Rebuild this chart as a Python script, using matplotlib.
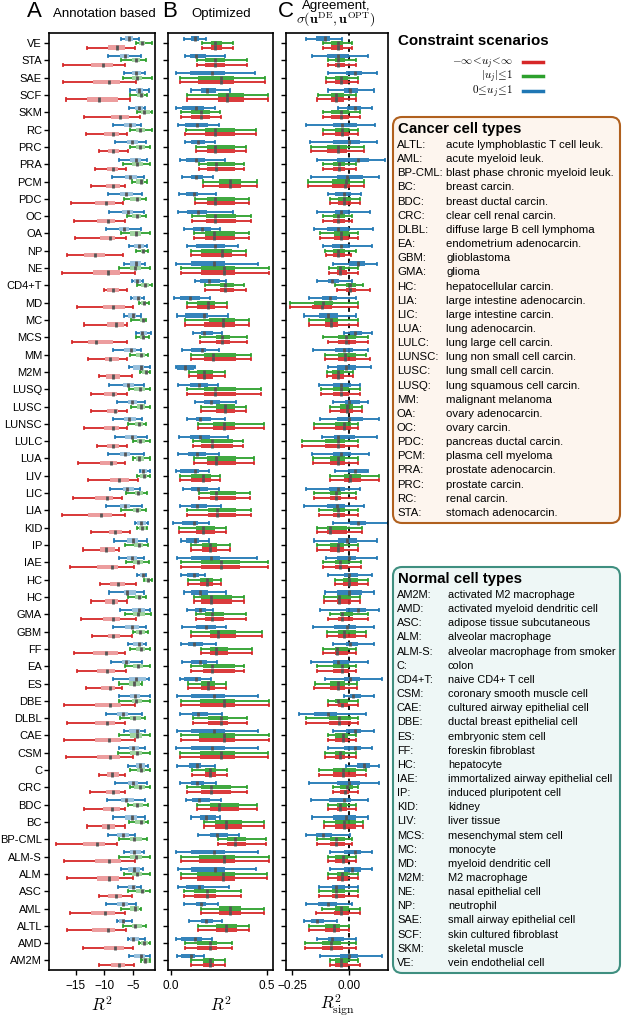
import numpy as np
import matplotlib
matplotlib.use("Agg")
import matplotlib.pyplot as plt
from matplotlib.lines import Line2D
from matplotlib.patches import FancyBboxPatch

plt.rcParams['font.family'] = ['Liberation Sans', 'DejaVu Sans']
plt.rcParams['mathtext.fontset'] = 'cm'
plt.rcParams['axes.unicode_minus'] = True

categories = ["VE", "STA", "SAE", "SCF", "SKM", "RC", "PRC", "PRA", "PCM", "PDC", "OC", "OA", "NP", "NE",
              "CD4+T", "MD", "MC", "MCS", "MM", "M2M", "LUSQ", "LUSC", "LUNSC", "LULC", "LUA", "LIV", "LIC",
              "LIA", "KID", "IP", "IAE", "HC", "HC", "GMA", "GBM", "FF", "EA", "ES", "DBE", "DLBL", "CAE",
              "CSM", "C", "CRC", "BDC", "BC", "BP-CML", "ALM-S", "ALM", "ASC", "AML", "ALTL", "AMD", "AM2M"]

# each entry: (whisker low, q1, median, q3, whisker high)
A_blue = [(-7.0,-6.3,-5.6,-5.0,-3.9),(-9.4,-7.2,-6.4,-5.7,-3.5),(-6.5,-5.2,-4.4,-3.5,-2.8),(-5.5,-4.5,-3.9,-3.2,-2.2),
          (-5.7,-4.6,-3.9,-3.2,-2.8),(-8.5,-6.5,-5.4,-4.4,-3.5),(-8.1,-6.1,-5.2,-4.1,-2.6),(-7.5,-5.5,-4.5,-3.6,-2.5),
          (-8.7,-6.3,-5.4,-4.2,-3.0),(-9.3,-7.2,-6.2,-5.0,-3.3),(-9.1,-6.9,-5.9,-5.0,-3.0),(-9.7,-7.5,-6.5,-5.6,-3.5),
          (-5.7,-4.8,-3.9,-3.0,-2.5),(-6.5,-5.4,-4.5,-3.6,-2.8),(-5.2,-4.7,-4.3,-3.6,-3.2),(-5.3,-4.9,-4.1,-3.5,-3.0),
          (-6.5,-5.8,-5.0,-4.4,-3.5),(-4.4,-3.8,-3.3,-2.5,-1.8),(-8.4,-6.6,-5.3,-4.5,-3.5),(-5.6,-5.0,-3.5,-3.0,-1.9),
          (-9.1,-6.8,-5.9,-4.8,-3.0),(-7.8,-5.8,-5.1,-4.2,-2.8),(-8.5,-6.6,-5.7,-4.5,-3.3),(-8.1,-6.3,-5.2,-4.2,-2.5),
          (-9.3,-7.2,-6.3,-5.4,-3.0),(-3.8,-3.5,-3.2,-2.5,-2.0),(-9.0,-6.8,-6.0,-4.8,-3.8),(-9.7,-7.2,-6.3,-5.4,-3.3),
          (-4.6,-4.2,-3.6,-2.6,-2.3),(-8.3,-6.1,-5.0,-4.1,-2.5),(-7.5,-6.1,-5.1,-4.2,-3.0),(-4.2,-3.8,-3.2,-2.9,-2.6),
          (-9.1,-6.6,-6.1,-4.5,-3.0),(-7.2,-5.2,-3.9,-2.9,-2.0),(-8.4,-6.4,-5.1,-3.9,-2.6),(-5.8,-5.0,-3.9,-3.2,-2.6),
          (-8.8,-6.9,-6.2,-5.4,-3.3),(-8.4,-5.7,-4.5,-2.6,-2.2),(-7.4,-5.4,-4.6,-3.8,-2.0),(-9.7,-7.8,-6.8,-5.8,-3.3),
          (-6.6,-5.6,-4.2,-3.8,-2.8),(-7.5,-5.7,-5.0,-3.9,-2.9),(-5.8,-4.5,-3.8,-2.8,-2.3),(-8.1,-5.8,-5.0,-4.1,-2.5),
          (-9.6,-7.0,-6.2,-4.8,-2.8),(-8.4,-6.3,-5.2,-4.2,-2.9),(-9.4,-7.8,-6.8,-5.7,-4.6),(-6.6,-5.4,-4.8,-3.6,-3.0),
          (-7.0,-5.8,-4.8,-3.8,-3.2),(-7.6,-5.8,-5.0,-4.4,-3.6),(-9.7,-7.8,-6.8,-5.8,-4.4),(-7.8,-7.5,-6.7,-6.3,-5.2),
          (-5.9,-5.4,-5.0,-3.9,-2.9),(-5.6,-4.8,-3.6,-2.8,-2.0)]
A_green = [(-4.5,-3.9,-3.4,-2.9,-1.7),(-7.0,-5.2,-4.5,-3.8,-2.6),(-6.8,-5.2,-4.3,-3.3,-1.7),(-5.4,-4.2,-3.6,-3.0,-2.5),
           (-4.2,-3.5,-3.0,-2.0,-1.7),(-5.5,-4.5,-3.8,-2.8,-1.7),(-5.4,-4.4,-3.7,-2.8,-1.9),(-6.7,-5.2,-4.2,-3.2,-1.9),
           (-5.2,-4.5,-3.5,-3.0,-2.5),(-6.5,-5.4,-4.2,-3.5,-2.6),(-6.1,-5.2,-4.2,-3.5,-2.6),(-7.0,-5.4,-4.5,-3.6,-2.0),
           (-4.4,-3.6,-3.2,-2.8,-2.3),(-7.4,-5.4,-4.6,-3.6,-1.9),(-4.2,-3.5,-2.8,-2.2,-1.7),(-3.9,-3.6,-3.0,-2.6,-2.2),
           (-5.3,-3.8,-3.2,-2.8,-2.6),(-4.5,-3.8,-3.2,-2.8,-2.2),(-5.4,-4.4,-3.6,-2.9,-2.3),(-3.8,-3.3,-2.6,-2.4,-2.0),
           (-5.6,-4.8,-3.8,-2.8,-2.0),(-5.3,-4.2,-3.6,-2.9,-2.0),(-5.8,-4.6,-3.9,-3.2,-2.6),(-5.0,-4.2,-3.8,-2.9,-2.0),
           (-5.0,-4.4,-3.9,-3.0,-2.0),(-4.3,-3.8,-3.0,-2.5,-2.0),(-6.2,-4.6,-4.1,-3.2,-2.5),(-7.0,-5.0,-4.3,-3.5,-2.6),
           (-4.3,-3.9,-3.3,-2.6,-2.5),(-6.3,-4.8,-3.9,-3.2,-2.4),(-6.2,-5.0,-4.1,-3.2,-2.2),(-3.0,-2.8,-2.3,-1.9,-1.7),
           (-5.8,-4.6,-3.9,-3.3,-2.6),(-6.3,-5.0,-4.1,-2.8,-1.8),(-5.0,-4.5,-3.8,-2.9,-2.3),(-5.4,-4.5,-3.6,-2.9,-2.0),
           (-6.4,-5.0,-4.1,-3.2,-2.0),(-7.4,-5.7,-4.8,-3.8,-3.3),(-7.4,-5.2,-4.5,-3.3,-1.9),(-7.2,-5.4,-4.8,-3.6,-2.8),
           (-7.4,-5.4,-4.2,-3.3,-1.9),(-7.6,-5.4,-4.2,-3.3,-1.9),(-5.4,-4.2,-3.5,-2.8,-1.9),(-5.4,-4.8,-3.8,-2.9,-2.0),
           (-5.8,-5.0,-4.2,-3.2,-2.3),(-5.7,-4.6,-3.6,-2.9,-2.3),(-7.4,-5.4,-4.8,-3.3,-2.5),(-7.4,-5.4,-4.5,-3.3,-1.9),
           (-6.6,-5.2,-4.2,-3.3,-1.9),(-5.8,-4.5,-3.3,-2.9,-2.0),(-7.0,-5.4,-4.6,-3.9,-3.5),(-6.8,-5.2,-4.6,-3.3,-2.6),
           (-3.9,-3.6,-3.0,-2.3,-1.9),(-3.6,-3.2,-2.8,-2.2,-1.9)]
A_red = [(-13.0,-9.3,-7.7,-6.3,-4.6),(-17.2,-12.4,-10.3,-8.4,-6.3),(-17.2,-11.9,-9.1,-7.2,-4.4),(-16.7,-13.1,-11.0,-7.6,-5.4),
         (-13.5,-8.8,-7.2,-5.7,-3.8),(-13.2,-10.0,-8.4,-7.4,-6.0),(-11.0,-9.3,-8.4,-7.5,-5.9),(-11.7,-9.6,-8.5,-7.6,-6.2),
         (-12.3,-9.7,-8.4,-7.2,-6.3),(-15.8,-11.6,-9.7,-8.1,-6.8),(-15.4,-11.3,-9.4,-8.1,-6.3),(-15.1,-10.7,-9.0,-8.1,-6.2),
         (-16.5,-13.5,-11.6,-9.9,-6.8),(-17.4,-11.9,-9.4,-7.2,-4.6),(-10.1,-9.6,-8.4,-7.5,-6.0),(-14.8,-10.3,-8.4,-6.4,-5.0),
         (-13.5,-9.6,-8.0,-6.6,-6.0),(-15.7,-12.8,-11.5,-8.4,-6.0),(-12.8,-9.9,-9.0,-7.5,-6.0),(-11.0,-9.7,-8.4,-7.2,-5.2),
         (-12.4,-10.1,-8.4,-7.8,-6.0),(-12.4,-9.6,-8.1,-7.6,-6.0),(-13.5,-10.0,-8.4,-7.5,-6.0),(-11.3,-9.6,-8.4,-7.5,-6.0),
         (-14.6,-10.7,-8.8,-7.8,-6.4),(-12.9,-9.0,-7.4,-5.7,-4.1),(-15.5,-11.6,-9.6,-8.4,-6.9),(-17.4,-12.8,-10.6,-8.7,-6.3),
         (-12.3,-9.1,-8.1,-6.9,-5.4),(-13.7,-10.7,-9.7,-8.2,-7.4),(-16.1,-11.3,-8.7,-7.6,-4.8),(-10.7,-9.0,-7.6,-6.4,-4.5),
         (-12.3,-9.9,-8.4,-7.6,-6.0),(-14.1,-10.3,-8.4,-7.2,-4.4),(-12.1,-9.3,-8.4,-7.2,-5.2),(-15.3,-11.9,-9.7,-7.6,-6.4),
         (-14.8,-11.3,-9.6,-8.1,-6.2),(-13.2,-10.6,-9.0,-8.1,-6.9),(-17.1,-11.7,-9.0,-7.0,-4.6),(-16.5,-11.6,-9.6,-8.1,-6.3),
         (-17.1,-11.7,-9.1,-7.0,-4.6),(-16.8,-11.3,-9.0,-7.2,-5.0),(-11.0,-9.6,-8.6,-7.5,-6.3),(-12.5,-9.7,-8.4,-7.2,-6.3),
         (-13.5,-10.3,-8.6,-7.2,-6.3),(-13.0,-10.4,-9.4,-8.1,-6.3),(-18.4,-13.7,-11.2,-9.9,-7.7),(-17.1,-11.7,-9.1,-7.0,-4.6),
         (-16.5,-11.3,-9.1,-7.4,-5.0),(-11.0,-9.3,-7.9,-6.9,-5.2),(-16.1,-12.4,-9.9,-8.1,-6.3),(-16.5,-12.2,-9.4,-8.1,-6.2),
         (-13.8,-10.1,-8.2,-6.6,-5.0),(-11.0,-8.8,-7.4,-6.3,-4.8)]

B_blue = [(0.066,0.105,0.122,0.143,0.183),(0.071,0.096,0.132,0.183,0.279),(0.026,0.096,0.214,0.279,0.436),(0.105,0.157,0.188,0.235,0.308),
          (0.026,0.057,0.127,0.171,0.230),(0.035,0.070,0.134,0.192,0.249),(0.070,0.105,0.139,0.174,0.230),(0.044,0.078,0.132,0.174,0.279),
          (0.057,0.105,0.127,0.166,0.218),(0.040,0.078,0.118,0.139,0.235),(0.035,0.084,0.139,0.188,0.322),(0.066,0.113,0.162,0.209,0.253),
          (0.084,0.131,0.230,0.279,0.348),(0.026,0.105,0.221,0.279,0.453),(0.122,0.148,0.195,0.253,0.287),(0.017,0.044,0.100,0.148,0.200),
          (0.031,0.070,0.171,0.192,0.296),(0.113,0.157,0.171,0.218,0.265),(0.056,0.105,0.160,0.183,0.247),(0.023,0.031,0.070,0.118,0.122),
          (0.035,0.096,0.143,0.192,0.244),(0.125,0.171,0.209,0.253,0.340),(0.082,0.131,0.148,0.209,0.279),(0.040,0.096,0.148,0.200,0.296),
          (0.035,0.087,0.134,0.183,0.247),(0.023,0.044,0.122,0.143,0.197),(0.061,0.105,0.139,0.192,0.247),(0.044,0.101,0.134,0.188,0.258),
          (0.012,0.056,0.117,0.139,0.197),(0.049,0.078,0.125,0.143,0.197),(0.031,0.101,0.206,0.256,0.448),(0.049,0.084,0.118,0.145,0.178),
          (0.066,0.105,0.148,0.192,0.287),(0.082,0.122,0.148,0.183,0.218),(0.057,0.131,0.179,0.235,0.287),(0.049,0.087,0.118,0.166,0.235),
          (0.057,0.105,0.148,0.188,0.240),(0.044,0.066,0.131,0.157,0.209),(0.030,0.101,0.221,0.282,0.453),(0.044,0.110,0.139,0.192,0.265),
          (0.031,0.101,0.221,0.282,0.453),(0.026,0.101,0.214,0.279,0.453),(0.031,0.092,0.134,0.153,0.230),(0.044,0.105,0.136,0.171,0.235),
          (0.075,0.110,0.143,0.200,0.261),(0.105,0.148,0.183,0.235,0.253),(0.139,0.200,0.240,0.296,0.354),(0.026,0.101,0.221,0.282,0.453),
          (0.035,0.101,0.226,0.279,0.444),(0.035,0.075,0.143,0.171,0.301),(0.066,0.131,0.153,0.183,0.244),(0.092,0.153,0.179,0.218,0.265),
          (0.026,0.052,0.122,0.160,0.213),(0.030,0.052,0.101,0.122,0.171)]
B_green = [(0.160,0.206,0.230,0.265,0.324),(0.134,0.174,0.226,0.279,0.397),(0.044,0.139,0.261,0.328,0.488),(0.082,0.244,0.289,0.380,0.505),
           (0.052,0.101,0.153,0.200,0.253),(0.075,0.174,0.230,0.334,0.439),(0.131,0.186,0.226,0.331,0.392),(0.143,0.186,0.232,0.331,0.380),
           (0.166,0.247,0.305,0.366,0.449),(0.122,0.188,0.230,0.334,0.404),(0.108,0.179,0.230,0.340,0.418),(0.118,0.174,0.223,0.334,0.404),
           (0.105,0.157,0.265,0.319,0.392),(0.052,0.157,0.274,0.334,0.509),(0.178,0.253,0.279,0.328,0.380),(0.082,0.136,0.192,0.226,0.293),
           (0.070,0.197,0.270,0.334,0.404),(0.148,0.235,0.267,0.305,0.397),(0.101,0.171,0.218,0.340,0.415),(0.091,0.136,0.171,0.218,0.279),
           (0.082,0.171,0.226,0.340,0.465),(0.153,0.235,0.279,0.334,0.392),(0.139,0.218,0.274,0.334,0.483),(0.113,0.157,0.213,0.322,0.375),
           (0.118,0.186,0.232,0.340,0.430),(0.044,0.101,0.166,0.209,0.253),(0.143,0.200,0.232,0.340,0.409),(0.084,0.192,0.240,0.340,0.415),
           (0.040,0.131,0.166,0.226,0.287),(0.105,0.162,0.200,0.240,0.305),(0.049,0.153,0.261,0.357,0.505),(0.087,0.148,0.188,0.218,0.261),
           (0.117,0.157,0.209,0.319,0.378),(0.127,0.174,0.214,0.274,0.387),(0.101,0.200,0.244,0.340,0.474),(0.157,0.200,0.235,0.296,0.422),
           (0.105,0.166,0.214,0.334,0.380),(0.087,0.157,0.192,0.226,0.287),(0.052,0.148,0.274,0.334,0.509),(0.113,0.192,0.258,0.296,0.397),
           (0.049,0.143,0.274,0.334,0.509),(0.047,0.148,0.261,0.331,0.505),(0.108,0.174,0.204,0.235,0.293),(0.082,0.153,0.209,0.310,0.397),
           (0.134,0.200,0.247,0.354,0.448),(0.171,0.230,0.284,0.369,0.484),(0.244,0.293,0.334,0.392,0.493),(0.049,0.143,0.274,0.334,0.509),
           (0.052,0.136,0.270,0.331,0.497),(0.066,0.118,0.188,0.235,0.366),(0.153,0.247,0.305,0.366,0.484),(0.139,0.235,0.284,0.345,0.406),
           (0.070,0.136,0.200,0.239,0.319),(0.101,0.166,0.200,0.223,0.282)]
B_red = [(0.160,0.206,0.230,0.265,0.324),(0.134,0.174,0.226,0.279,0.397),(0.044,0.139,0.261,0.328,0.488),(0.082,0.244,0.289,0.380,0.505),
         (0.052,0.101,0.153,0.200,0.260),(0.070,0.174,0.230,0.334,0.439),(0.131,0.186,0.226,0.331,0.392),(0.143,0.186,0.232,0.331,0.380),
         (0.166,0.247,0.305,0.366,0.449),(0.122,0.188,0.230,0.334,0.404),(0.108,0.179,0.230,0.340,0.418),(0.118,0.174,0.223,0.334,0.404),
         (0.105,0.157,0.265,0.319,0.392),(0.052,0.157,0.274,0.334,0.509),(0.178,0.253,0.279,0.328,0.387),(0.082,0.136,0.192,0.226,0.293),
         (0.070,0.171,0.270,0.334,0.404),(0.148,0.235,0.267,0.305,0.397),(0.101,0.171,0.218,0.340,0.415),(0.091,0.136,0.171,0.218,0.279),
         (0.082,0.171,0.226,0.340,0.465),(0.153,0.235,0.279,0.334,0.392),(0.139,0.218,0.274,0.334,0.483),(0.113,0.157,0.213,0.322,0.375),
         (0.118,0.186,0.232,0.340,0.430),(0.044,0.101,0.166,0.209,0.253),(0.143,0.200,0.232,0.340,0.409),(0.084,0.192,0.240,0.340,0.415),
         (0.040,0.131,0.166,0.226,0.287),(0.105,0.162,0.200,0.240,0.305),(0.049,0.153,0.261,0.357,0.505),(0.087,0.148,0.188,0.218,0.261),
         (0.117,0.157,0.209,0.319,0.378),(0.127,0.174,0.214,0.274,0.387),(0.101,0.200,0.244,0.340,0.474),(0.157,0.200,0.235,0.296,0.422),
         (0.105,0.166,0.214,0.334,0.380),(0.087,0.157,0.192,0.226,0.287),(0.052,0.148,0.274,0.334,0.509),(0.113,0.192,0.258,0.296,0.397),
         (0.049,0.143,0.274,0.334,0.509),(0.047,0.148,0.261,0.331,0.505),(0.108,0.174,0.204,0.235,0.293),(0.082,0.153,0.209,0.310,0.397),
         (0.134,0.200,0.247,0.354,0.448),(0.171,0.230,0.284,0.369,0.484),(0.244,0.293,0.334,0.392,0.493),(0.049,0.143,0.274,0.334,0.509),
         (0.052,0.136,0.270,0.331,0.497),(0.066,0.118,0.188,0.235,0.366),(0.153,0.247,0.305,0.366,0.484),(0.139,0.235,0.284,0.345,0.406),
         (0.070,0.136,0.200,0.239,0.319),(0.101,0.166,0.200,0.223,0.282)]

C_blue = [(-0.188,-0.145,-0.105,-0.084,-0.032),(-0.163,-0.098,-0.052,-0.004,0.082),(-0.094,-0.014,0.025,0.053,0.118),(-0.094,-0.026,0.003,0.039,0.108),
          (-0.048,-0.012,0.022,0.051,0.097),(-0.189,-0.074,-0.033,0.032,0.111),(-0.173,-0.074,-0.001,0.046,0.118),(-0.142,-0.055,0.039,0.085,0.155),
          (-0.168,-0.055,-0.012,0.061,0.130),(-0.094,-0.062,-0.026,0.007,0.051),(-0.142,-0.062,-0.036,0.003,0.090),(-0.156,-0.098,-0.048,-0.001,0.104),
          (-0.117,-0.077,-0.036,0.003,0.097),(-0.074,-0.004,0.035,0.068,0.118),(-0.142,-0.094,-0.077,-0.045,0.013),(-0.178,-0.120,-0.084,-0.055,0.027),
          (-0.199,-0.134,-0.094,-0.051,0.027),(-0.026,0.003,0.022,0.053,0.097),(-0.160,-0.062,-0.022,0.017,0.082),(-0.094,-0.055,-0.014,0.027,0.094),
          (-0.134,-0.074,-0.036,0.007,0.046),(-0.074,-0.019,-0.001,0.046,0.082),(-0.127,-0.055,-0.001,0.061,0.130),(-0.120,-0.069,-0.048,0.025,0.118),
          (-0.163,-0.074,-0.036,0.007,0.085),(-0.062,-0.007,0.025,0.075,0.082),(-0.189,-0.091,-0.048,-0.019,0.046),(-0.199,-0.098,-0.055,-0.019,0.064),
          (-0.074,0.003,0.039,0.071,0.169),(-0.156,-0.051,-0.012,0.032,0.118),(-0.101,-0.055,-0.001,0.027,0.118),(-0.094,-0.026,-0.001,0.036,0.097),
          (-0.108,-0.055,-0.001,0.053,0.108),(-0.127,-0.016,0.039,0.071,0.130),(-0.160,-0.069,-0.012,0.027,0.108),(-0.074,-0.016,0.003,0.039,0.108),
          (-0.166,-0.074,-0.048,-0.004,0.082),(-0.108,-0.026,0.003,0.046,0.143),(-0.022,0.003,0.017,0.051,0.108),(-0.221,-0.156,-0.094,-0.055,0.071),
          (-0.074,-0.014,0.025,0.051,0.108),(-0.094,-0.026,0.025,0.051,0.097),(-0.014,0.032,0.064,0.090,0.130),(-0.178,-0.055,-0.001,0.046,0.130),
          (-0.166,-0.088,-0.026,0.007,0.082),(-0.163,-0.074,-0.014,0.027,0.082),(-0.189,-0.145,-0.117,-0.077,0.003),(-0.084,-0.022,0.025,0.051,0.097),
          (-0.084,-0.026,0.013,0.051,0.097),(-0.131,-0.077,-0.058,-0.019,0.036),(-0.189,-0.137,-0.094,-0.055,0.013),(-0.199,-0.166,-0.142,-0.113,-0.055),
          (-0.142,-0.094,-0.077,-0.026,0.027),(-0.127,-0.040,-0.001,0.039,0.143)]
C_green = [(-0.117,-0.081,-0.052,-0.029,0.013),(-0.094,-0.065,-0.048,-0.019,0.027),(-0.101,-0.062,-0.036,-0.007,0.036),(-0.137,-0.079,-0.059,-0.022,0.027),
           (-0.117,-0.079,-0.036,-0.004,0.046),(-0.117,-0.062,-0.033,-0.004,0.039),(-0.168,-0.098,-0.048,-0.012,0.064),(-0.117,-0.074,-0.045,-0.019,0.027),
           (-0.182,-0.077,-0.014,0.003,0.064),(-0.084,-0.051,-0.022,0.007,0.046),(-0.117,-0.074,-0.048,-0.019,0.013),(-0.127,-0.069,-0.036,-0.004,0.036),
           (-0.108,-0.074,-0.048,-0.019,0.027),(-0.088,-0.055,-0.040,-0.019,0.036),(-0.062,-0.016,0.003,0.027,0.061),(-0.260,-0.156,-0.117,-0.074,0.036),
           (-0.178,-0.108,-0.081,-0.048,0.036),(-0.117,-0.051,-0.014,0.027,0.082),(-0.108,-0.048,-0.019,0.027,0.071),(-0.098,-0.077,-0.051,-0.022,0.017),
           (-0.126,-0.074,-0.036,-0.004,0.046),(-0.084,-0.040,-0.012,0.017,0.053),(-0.156,-0.062,-0.022,0.007,0.035),(-0.207,-0.108,-0.048,-0.019,0.036),
           (-0.160,-0.084,-0.048,-0.019,0.036),(-0.084,-0.026,0.003,0.051,0.130),(-0.156,-0.084,-0.059,-0.036,0.027),(-0.131,-0.074,-0.048,-0.019,0.036),
           (-0.142,-0.098,-0.084,-0.012,0.053),(-0.142,-0.084,-0.048,-0.022,0.036),(-0.117,-0.062,-0.040,-0.007,0.051),(-0.062,-0.029,-0.001,0.039,0.082),
           (-0.113,-0.055,-0.045,0.007,0.046),(-0.084,-0.040,-0.033,0.017,0.082),(-0.098,-0.051,-0.023,0.027,0.071),(-0.117,-0.062,-0.055,-0.007,0.027),
           (-0.142,-0.074,-0.033,-0.004,0.027),(-0.152,-0.084,-0.048,-0.019,0.032),(-0.094,-0.062,-0.048,-0.007,0.036),(-0.189,-0.091,-0.045,0.007,0.036),
           (-0.094,-0.062,-0.029,-0.007,0.027),(-0.108,-0.062,-0.040,-0.019,0.027),(-0.131,-0.074,-0.029,0.027,0.071),(-0.074,-0.040,-0.012,0.017,0.036),
           (-0.094,-0.055,-0.040,-0.012,0.027),(-0.110,-0.062,-0.023,0.027,0.061),(-0.142,-0.087,-0.059,-0.019,0.013),(-0.094,-0.062,-0.029,-0.007,0.027),
           (-0.094,-0.055,-0.033,-0.007,0.036),(-0.131,-0.077,-0.058,-0.019,0.036),(-0.120,-0.062,-0.036,-0.004,0.046),(-0.178,-0.108,-0.069,-0.040,-0.001),
           (-0.192,-0.120,-0.081,-0.036,0.027),(-0.084,-0.062,-0.036,-0.007,0.039)]
C_red = [(-0.117,-0.081,-0.050,-0.029,0.013),(-0.094,-0.063,-0.048,-0.021,0.027),(-0.103,-0.062,-0.036,-0.007,0.036),(-0.141,-0.079,-0.059,-0.022,0.027),
         (-0.117,-0.079,-0.036,-0.004,0.046),(-0.117,-0.062,-0.033,-0.004,0.039),(-0.168,-0.098,-0.048,-0.012,0.064),(-0.117,-0.074,-0.045,-0.019,0.027),
         (-0.182,-0.077,-0.018,0.003,0.064),(-0.084,-0.048,-0.022,0.007,0.046),(-0.117,-0.074,-0.048,-0.019,0.013),(-0.127,-0.069,-0.036,-0.004,0.036),
         (-0.103,-0.074,-0.048,-0.019,0.007),(-0.088,-0.055,-0.040,-0.012,0.036),(-0.055,-0.016,0.003,0.027,0.090),(-0.260,-0.163,-0.120,-0.077,0.036),
         (-0.178,-0.108,-0.081,-0.048,0.036),(-0.095,-0.048,-0.014,0.027,0.082),(-0.108,-0.048,-0.019,0.027,0.090),(-0.098,-0.077,-0.051,-0.022,0.017),
         (-0.126,-0.074,-0.036,-0.004,0.046),(-0.084,-0.040,-0.012,0.017,0.053),(-0.156,-0.062,-0.022,0.007,0.035),(-0.207,-0.108,-0.048,-0.019,0.036),
         (-0.160,-0.084,-0.048,-0.019,0.036),(-0.084,-0.026,0.003,0.051,0.130),(-0.156,-0.084,-0.059,-0.036,0.027),(-0.131,-0.074,-0.048,-0.019,0.036),
         (-0.142,-0.098,-0.084,-0.012,0.053),(-0.142,-0.084,-0.048,-0.022,0.036),(-0.117,-0.062,-0.040,-0.007,0.051),(-0.062,-0.029,-0.001,0.039,0.082),
         (-0.113,-0.055,-0.045,0.007,0.046),(-0.094,-0.048,-0.033,0.017,0.082),(-0.098,-0.051,-0.023,0.027,0.071),(-0.117,-0.062,-0.055,-0.007,0.027),
         (-0.142,-0.074,-0.033,-0.004,0.027),(-0.156,-0.084,-0.048,-0.019,0.032),(-0.094,-0.051,-0.033,-0.007,0.036),(-0.189,-0.091,-0.045,0.007,0.036),
         (-0.094,-0.062,-0.029,-0.007,0.027),(-0.108,-0.062,-0.040,-0.019,0.027),(-0.131,-0.074,-0.029,0.027,0.071),(-0.074,-0.040,-0.019,-0.001,0.036),
         (-0.094,-0.055,-0.040,-0.012,0.027),(-0.110,-0.062,-0.023,0.027,0.061),(-0.142,-0.087,-0.059,-0.019,0.013),(-0.094,-0.062,-0.029,-0.007,0.027),
         (-0.094,-0.055,-0.033,-0.007,0.036),(-0.131,-0.077,-0.058,-0.019,0.036),(-0.144,-0.069,-0.036,-0.004,0.046),(-0.178,-0.108,-0.069,-0.040,-0.001),
         (-0.195,-0.120,-0.081,-0.029,0.027),(-0.084,-0.062,-0.036,-0.007,0.046)]

scenario_labels = [r"$-\infty\!<\!u_j\!<\!\infty$", r"$|u_j|\!\leq\!1$", r"$0\!\leq\!u_j\!\leq\!1$"]

cancer_abbr = ["ALTL:", "AML:", "BP-CML:", "BC:", "BDC:", "CRC:", "DLBL:", "EA:", "GBM:", "GMA:", "HC:", "LIA:", "LIC:",
               "LUA:", "LULC:", "LUNSC:", "LUSC:", "LUSQ:", "MM:", "OA:", "OC:", "PDC:", "PCM:", "PRA:", "PRC:", "RC:", "STA:"]
cancer_desc = ["acute lymphoblastic T cell leuk.", "acute myeloid leuk.", "blast phase chronic myeloid leuk.",
               "breast carcin.", "breast ductal carcin.", "clear cell renal carcin.", "diffuse large B cell lymphoma",
               "endometrium adenocarcin.", "glioblastoma", "glioma", "hepatocellular carcin.",
               "large intestine adenocarcin.", "large intestine carcin.", "lung adenocarcin.", "lung large cell carcin.",
               "lung non small cell carcin.", "lung small cell carcin.", "lung squamous cell carcin.",
               "malignant melanoma", "ovary adenocarcin.", "ovary carcin.", "pancreas ductal carcin.",
               "plasma cell myeloma", "prostate adenocarcin.", "prostate carcin.", "renal carcin.", "stomach adenocarcin."]
normal_abbr = ["AM2M:", "AMD:", "ASC:", "ALM:", "ALM-S:", "C:", "CD4+T:", "CSM:", "CAE:", "DBE:", "ES:", "FF:", "HC:",
               "IAE:", "IP:", "KID:", "LIV:", "MCS:", "MC:", "MD:", "M2M:", "NE:", "NP:", "SAE:", "SCF:", "SKM:", "VE:"]
normal_desc = ["activated M2 macrophage", "activated myeloid dendritic cell", "adipose tissue subcutaneous",
               "alveolar macrophage", "alveolar macrophage from smoker", "colon", "naive CD4+ T cell",
               "coronary smooth muscle cell", "cultured airway epithelial cell", "ductal breast epithelial cell",
               "embryonic stem cell", "foreskin fibroblast", "hepatocyte", "immortalized airway epithelial cell",
               "induced pluripotent cell", "kidney", "liver tissue", "mesenchymal stem cell", "monocyte",
               "myeloid dendritic cell", "M2 macrophage", "nasal epithelial cell", "neutrophil",
               "small airway epithelial cell", "skin cultured fibroblast", "skeletal muscle", "vein endothelial cell"]

RED, GREEN, BLUE = "#d62728", "#2ca02c", "#1f77b4"
W, H = 622, 1018
fig = plt.figure(figsize=(W / 100, H / 100), dpi=100)

def fx(px):
    return px / W

def fy(py):
    return 1 - py / H

ax_top, ax_bot = 33, 970
panels = [(49, 155), (168, 273), (286, 388)]
axes = [fig.add_axes([fx(l), fy(ax_bot), fx(r - l), (ax_bot - ax_top) / H]) for l, r in panels]

n = len(categories)
ypos = np.arange(n)

def draw(ax, data, color, offset, light):
    stats = [dict(whislo=s[0], q1=s[1], med=s[2], q3=s[3], whishi=s[4], fliers=[]) for s in data]
    ax.bxp(stats, positions=ypos + offset, widths=0.24, orientation='horizontal', patch_artist=True,
           showfliers=False, manage_ticks=False, capwidths=0.12,
           boxprops=dict(facecolor=color, edgecolor='none', alpha=0.45 if light else 0.9),
           whiskerprops=dict(color=color, lw=1.3, solid_capstyle='butt'),
           capprops=dict(color=color, lw=1.3),
           medianprops=dict(color='#555555', lw=2.0, solid_capstyle='butt'))

panel_data = [(A_blue, A_green, A_red), (B_blue, B_green, B_red), (C_blue, C_green, C_red)]
for k, ax in enumerate(axes):
    bl, gr, rd = panel_data[k]
    draw(ax, bl, BLUE, -0.26, k == 0)
    draw(ax, gr, GREEN, 0.0, k == 0)
    draw(ax, rd, RED, 0.26, k == 0)
    ax.set_ylim(n - 1 + 0.55, -0.58)
    ax.set_yticks(ypos)
    for sp in ax.spines.values():
        sp.set_linewidth(1.2)
    ax.tick_params(axis='both', length=3.5, width=1.0, labelsize=8.5, pad=2)
    ax.tick_params(axis='y', labelsize=8, pad=1.5)
    ax.tick_params(axis='x', pad=4)

axes[0].set_yticklabels(categories)
axes[1].set_yticklabels([])
axes[2].set_yticklabels([])

axes[0].set_xlim(-19.7, -1.1)
axes[0].set_xticks([-15, -10, -5])
axes[1].set_xlim(-0.016, 0.53)
axes[1].set_xticks([0.0, 0.5])
axes[1].set_xticklabels(["0.0", "0.5"])
axes[2].set_xlim(-0.277, 0.168)
axes[2].set_xticks([-0.25, 0.0])
axes[2].set_xticklabels(["\u22120.25", "0.00"])
axes[2].axvline(0, color='black', ls=(0, (2.5, 2)), lw=1.3, zorder=0)

axes[0].set_xlabel(r"$R^2$", fontsize=12, labelpad=2)
axes[1].set_xlabel(r"$R^2$", fontsize=12, labelpad=2)
axes[2].set_xlabel(r"$R^2_{\rm sign}$", fontsize=12, labelpad=0)

# panel letters and titles
for letter, px in [("A", 27), ("B", 162), ("C", 278)]:
    fig.text(fx(px), fy(17), letter, fontsize=16, va='baseline', ha='left')
fig.text(fx(104), fy(17), "Annotation based", fontsize=9.5, ha='center', va='baseline')
fig.text(fx(221), fy(17), "Optimized", fontsize=9.5, ha='center', va='baseline')
fig.text(fx(336), fy(9), "Agreement,", fontsize=9.5, ha='center', va='baseline')
fig.text(fx(336), fy(24), r"$\sigma(\mathbf{u}^{\rm DE},\mathbf{u}^{\rm OPT})$", fontsize=10, ha='center', va='baseline')

# constraint legend
fig.text(fx(398), fy(45), "Constraint scenarios", fontsize=10.9, weight='bold', va='baseline')
for lab, col, py in zip(scenario_labels, [RED, GREEN, BLUE], [61.5, 76, 90.5]):
    fig.text(fx(513), fy(py + 3.3), lab, fontsize=8.0, ha='right', va='baseline')
    fig.add_artist(Line2D([fx(523), fx(543)], [fy(py), fy(py)], color=col, lw=2.5, transform=fig.transFigure))

# annotation boxes
def info_box(top, bottom, edge, face, title, abbr, desc, desc_x, fs):
    box = FancyBboxPatch((393 / 100, (H - bottom) / 100), 227 / 100, (bottom - top) / 100,
                         boxstyle="round,pad=0,rounding_size=0.09", transform=fig.dpi_scale_trans,
                         facecolor=face, edgecolor=edge, lw=1.5)
    fig.add_artist(box)
    fig.text(fx(398), fy(top + 16), title, fontsize=10.8, weight='bold', va='baseline')
    for j, (a, d) in enumerate(zip(abbr, desc)):
        yy = top + 28 + 14.15 * j
        fig.text(fx(397), fy(yy), a, fontsize=fs, va='center')
        fig.text(fx(desc_x), fy(yy), d, fontsize=fs, va='center')

info_box(117, 523, "#b0601e", "#fdf5ee", "Cancer cell types", cancer_abbr, cancer_desc, 446, 8.2)
info_box(567, 973, "#3f8f80", "#eef7f6", "Normal cell types", normal_abbr, normal_desc, 448, 7.9)

fig.savefig("out.png", dpi=100)
